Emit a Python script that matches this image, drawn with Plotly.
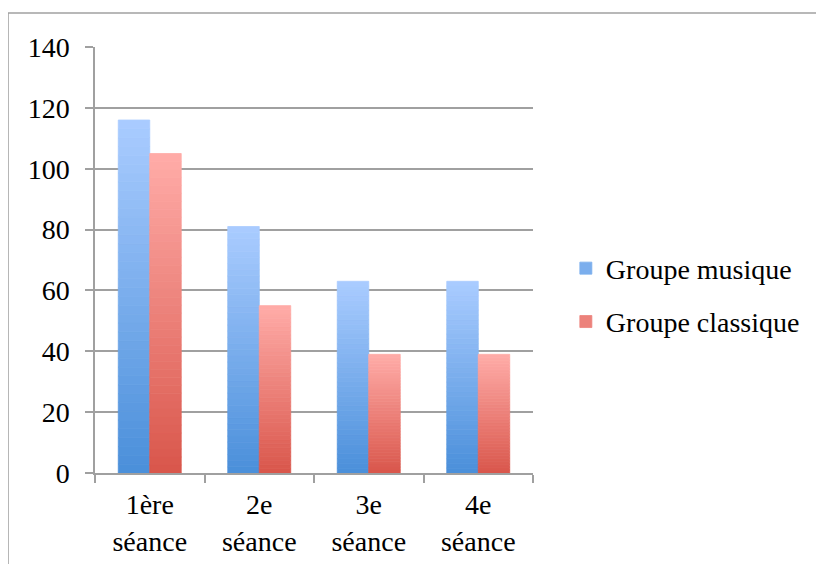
import plotly.graph_objects as go

categories = ["1ère<br>séance", "2e<br>séance", "3e<br>séance", "4e<br>séance"]
musique = [116, 81, 63, 63]
classique = [105, 55, 39, 39]
series_names = ["Groupe musique", "Groupe classique"]
y_ticks = [0, 20, 40, 60, 80, 100, 120, 140]

FONT = "Liberation Serif"
FS = 28
N = 40

def lerp(c1, c2, t):
    return "rgb(%d,%d,%d)" % tuple(round(a + (b - a) * t) for a, b in zip(c1, c2))

grad = {
    "Groupe musique": ((74, 143, 218), (170, 204, 255)),
    "Groupe classique": ((217, 86, 75), (255, 172, 168)),
}

fig = go.Figure()
for name, vals in zip(series_names, [musique, classique]):
    bottom, top = grad[name]
    for i in range(N):
        t = (i + 0.5) / N
        c = lerp(bottom, top, t)
        fig.add_trace(go.Bar(
            x=categories,
            y=[v / N for v in vals],
            base=[v * i / N for v in vals],
            offsetgroup=name,
            legendgroup=name,
            name=name,
            showlegend=(i == N // 2),
            marker=dict(color=c, line=dict(width=0.8, color=c)),
            hoverinfo="skip",
        ))

fig.update_layout(
    width=816, height=556,
    margin=dict(l=87, r=291, t=39, b=91),
    paper_bgcolor="white", plot_bgcolor="white",
    barmode="group", bargap=0.425, bargroupgap=0,
    font=dict(family=FONT, size=FS, color="black"),
    showlegend=True,
    legend=dict(x=1.075, y=0.418, xanchor="left", yanchor="middle",
                font=dict(family=FONT, size=FS, color="black"),
                tracegroupgap=14, itemwidth=30),
    xaxis=dict(showline=True, linecolor="#a0a0a0", linewidth=1.5,
               ticks="outside", tickson="boundaries", ticklen=8,
               tickcolor="#a0a0a0", tickwidth=1.5, showgrid=False,
               ticklabelstandoff=6, automargin=False,
               tickfont=dict(family=FONT, size=FS)),
    yaxis=dict(range=[0, 140], tickvals=y_ticks, showline=True,
               linecolor="#a0a0a0", linewidth=1.5, ticks="outside",
               ticklen=8, tickcolor="#a0a0a0", tickwidth=1.5,
               gridcolor="#a0a0a0", gridwidth=1.5, zeroline=False,
               ticklabelstandoff=10, automargin=False,
               tickfont=dict(family=FONT, size=FS)),
    shapes=[
        dict(type="line", xref="paper", yref="paper", x0=-0.1986, x1=1.7,
             y0=1.0798, y1=1.0798, line=dict(color="#a0a0a0", width=1.5)),
        dict(type="line", xref="paper", yref="paper", x0=-0.1986, x1=-0.1986,
             y0=1.0798, y1=-0.25, line=dict(color="#a0a0a0", width=1.5)),
    ],
)

fig.write_html("out.html")
